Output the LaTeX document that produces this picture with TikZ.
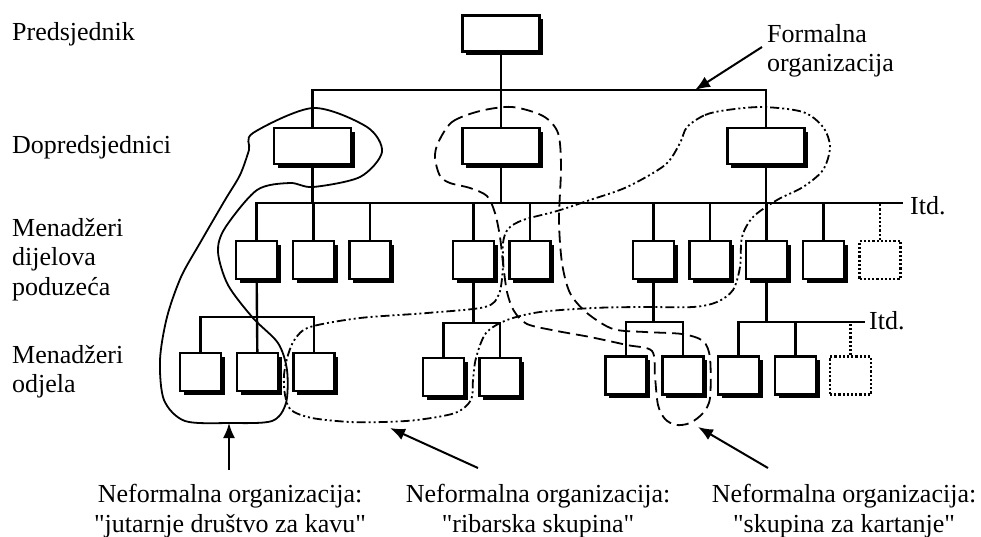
\documentclass[tikz,border=0pt]{standalone}
\usepackage{fontspec}
\setmainfont{Liberation Serif}
\usepackage{tikz}
\usetikzlibrary{shapes, arrows.meta, positioning, shadows}
\tikzstyle{box} = [rectangle, draw, line width=2.2pt, fill=white, inner sep=0pt, minimum width=41pt, minimum height=38pt, drop shadow={shadow xshift=3.5pt, shadow yshift=-3.5pt, fill=black, opacity=1}]
\tikzstyle{wbox} = [box, minimum width=77pt, minimum height=36pt]
\tikzstyle{dbox} = [rectangle, draw, dotted, line width=2.2pt, inner sep=0pt, minimum width=41pt, minimum height=38pt]
\tikzstyle{line} = [draw, line width=2.4pt]
\tikzstyle{dline} = [draw, line width=2.2pt, dotted]
\tikzstyle{lbl} = [inner sep=0pt, align=left, anchor=north west, font=\fontsize{26}{29.5}\selectfont]
\tikzstyle{arr} = [draw, line width=2pt, -{Latex[length=15pt,width=12pt]}]
\tikzstyle{kava} = [draw, line width=1.8pt]
\tikzstyle{riba} = [draw, line width=1.8pt, dash pattern=on 9pt off 3pt on 2pt off 3pt on 2pt off 3pt]
\tikzstyle{karte} = [draw, line width=1.8pt, dash pattern=on 12pt off 6pt]

\begin{document}
\begin{tikzpicture}[x=1pt, y=-1pt]
\useasboundingbox (0,0) rectangle (981,536);

% razine
\node [lbl, anchor=base west] (l1) at (12,40) {Predsjednik};
\node [lbl, anchor=base west] (l2) at (12,153) {Dopredsjednici};
\node [lbl] (l3) at (12,218) {Menadžeri\\dijelova\\poduzeća};
\node [lbl] (l4) at (12,345) {Menadžeri\\odjela};
\node [lbl] (formal) at (767,24) {Formalna\\organizacija};

% predsjednik i dopredsjednici
\node [wbox] (pr) at (501,33.5) {};
\node [wbox] (vp1) at (312.5,146) {};
\node [wbox] (vp2) at (501,146) {};
\node [wbox] (vp3) at (766,146) {};

% menadzeri dijelova poduzeca
\node [box] (m1) at (256.5,260) {};
\node [box] (m2) at (313.5,260) {};
\node [box] (m3) at (370,260) {};
\node [box] (m4) at (473.5,260) {};
\node [box] (m5) at (530,260) {};
\node [box] (m6) at (653.5,260) {};
\node [box] (m7) at (710,260) {};
\node [box] (m8) at (766.5,260) {};
\node [box] (m9) at (823.5,260) {};
\node [dbox] (m10) at (880,260) {};

% menadzeri odjela
\node [box] (o1) at (200.5,372) {};
\node [box] (o2) at (257.5,372) {};
\node [box] (o3) at (314,372) {};
\node [box] (o4) at (443.5,377) {};
\node [box] (o5) at (500,377) {};
\node [box] (o6) at (626,375.5) {};
\node [box] (o7) at (683,375.5) {};
\node [box] (o8) at (738.5,375.5) {};
\node [box] (o9) at (795.5,375.5) {};
\node [dbox] (o10) at (850.5,375.5) {};

\coordinate (t) at (0,90);
\coordinate (bus) at (0,203);
\coordinate (busend) at (903,203);
\coordinate (g1) at (0,317);
\coordinate (g2) at (0,323);
\coordinate (g3) at (0,322);
\coordinate (g4end) at (865,322);

\path [line] (pr) -- (vp2);
\path [line] (vp1) -- (vp1 |- t) -- (vp3 |- t) -- (vp3);
\path [line] (m1) -- (m1 |- bus) -- (busend);
\path [line] (vp1) -- (vp1 |- bus);
\path [line] (vp2) -- (vp2 |- bus);
\path [line] (vp3) -- (vp3 |- bus);
\path [line] (m2) -- (m2 |- bus);
\path [line] (m3) -- (m3 |- bus);
\path [line] (m4) -- (m4 |- bus);
\path [line] (m5) -- (m5 |- bus);
\path [line] (m6) -- (m6 |- bus);
\path [line] (m7) -- (m7 |- bus);
\path [line] (m8) -- (m8 |- bus);
\path [line] (m9) -- (m9 |- bus);
\path [dline] (m10) -- (m10 |- bus);
\node [lbl, anchor=base west] (itd1) at (910,214) {Itd.};

\path [line] (o1) -- (o1 |- g1) -- (o3 |- g1) -- (o3);
\path [line] (o2) -- (m1);
\path [line] (o4) -- (o4 |- g2) -- (o5 |- g2) -- (o5);
\path [line] (m4) -- (m4 |- g2);
\path [line] (o6) -- (o6 |- g3) -- (o7 |- g3) -- (o7);
\path [line] (m6) -- (m6 |- g3);
\path [line] (o8) -- (o8 |- g3) -- (g4end);
\path [line] (m8) -- (m8 |- g3);
\path [line] (o9) -- (o9 |- g3);
\path [dline] (o10) -- (o10 |- g3);
\node [lbl, anchor=base west] (itd2) at (869,329) {Itd.};

% neformalne organizacije
\path [kava] plot [smooth cycle] coordinates {(253,133) (313,108) (367,127) (382,152) (360,177) (313,187) (290,183) (257,190) (225,228) (218,252) (228,285) (253,318) (278,343) (287,370) (286,403) (272,421) (230,423) (185,421) (164,400) (160,360) (167,317) (181,277) (200,243) (225,200) (240,175) (249,150)};
\path [karte] plot [smooth cycle] coordinates {(438,143) (452,122) (480,111) (512,107) (543,116) (558,133) (561,167) (559,220) (562,263) (570,293) (587,313) (613,329) (645,332) (682,334) (703,341) (710,358) (710,398) (703,413) (690,423) (676,425) (665,419) (658,405) (655,377) (652,351) (627,345) (590,337) (557,331) (527,324) (514,311) (507,292) (503,263) (500,237) (495,213) (487,196) (470,188) (450,183) (440,176) (435,158)};
\path [riba] plot [smooth cycle] coordinates {(687,127) (705,115) (727,110) (763,107) (803,112) (823,127) (830,147) (823,170) (803,187) (777,200) (753,217) (742,237) (740,267) (733,290) (717,302) (693,307) (640,307) (593,308) (540,312) (507,320) (486,333) (476,358) (473,380) (471,400) (455,413) (417,420) (383,422) (350,422) (312,418) (291,410) (285,395) (284,375) (288,355) (295,339) (310,327) (360,318) (427,313) (485,307) (499,294) (503,267) (503,243) (508,229) (523,220) (557,211) (590,200) (627,187) (665,165) (680,143)};

% strelice
\coordinate (fs) at (762,47);
\coordinate (ft) at (695,90);
\coordinate (a1s) at (229,470);
\coordinate (a1t) at (229,423);
\coordinate (a2s) at (478,468);
\coordinate (a2t) at (390,428);
\coordinate (a3s) at (768,468);
\coordinate (a3t) at (698,427);
\path [arr] (fs) -- (ft);
\path [arr] (a1s) -- (a1t);
\path [arr] (a2s) -- (a2t);
\path [arr] (a3s) -- (a3t);

\node [lbl, align=center, anchor=north] (n1) at (230,484) {Neformalna organizacija:\\\textquotedbl jutarnje društvo za kavu\textquotedbl};
\node [lbl, align=center, anchor=north] (n2) at (538,484) {Neformalna organizacija:\\\textquotedbl ribarska skupina\textquotedbl};
\node [lbl, align=center, anchor=north] (n3) at (844,484) {Neformalna organizacija:\\\textquotedbl skupina za kartanje\textquotedbl};
\end{tikzpicture}
\end{document}
